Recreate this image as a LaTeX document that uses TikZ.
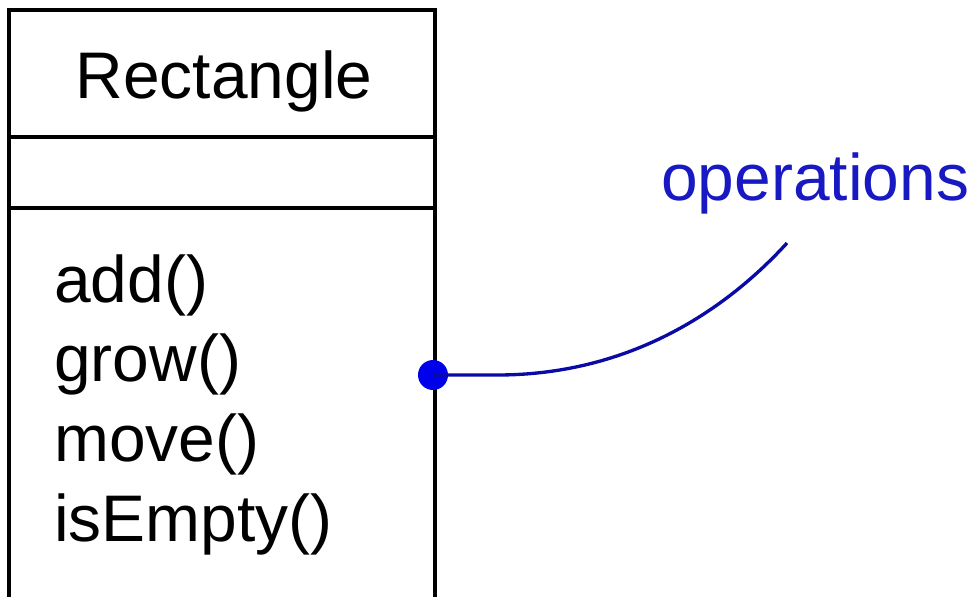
\documentclass[tikz,border=0pt]{standalone}
\usepackage{fontspec}
\setmainfont{Liberation Sans}
\usetikzlibrary{positioning}
\definecolor{opblue}{RGB}{25,25,195}
\definecolor{linkblue}{RGB}{10,10,165}
\definecolor{dotblue}{RGB}{0,0,235}

\begin{document}
\begin{tikzpicture}[
      x=0.02cm, y=-0.02cm,
      font=\fontsize{37.5}{45}\selectfont,
      part/.style={rectangle, draw=black, line width=1.9pt, inner sep=0pt,
                   outer sep=0pt, minimum width=8.52cm},
      member/.style={anchor=base west, inner sep=0pt},
      dotmark/.style={circle, fill=dotblue, inner sep=0pt, minimum size=0.6cm},
      link/.style={draw=linkblue, line width=1.9pt}
    ]
    \clip (0,0) rectangle (974,596);

    % Class box
    \node[part, anchor=north west, minimum height=2.54cm] (head) at (9,10) {};
    \node[part, below=0pt of head, minimum height=1.42cm] (attrs) {};
    \node[part, below=0pt of attrs, minimum height=8cm] (ops) {};

    % Name and operations
    \node[anchor=base, inner sep=0pt] (name) at (224,98) {Rectangle};
    \node[member] (add) at (54,302) {add()};
    \node[member] (grow) at (54,381) {grow()};
    \node[member] (move) at (54,461) {move()};
    \node[member] (empty) at (54,541) {isEmpty()};

    % Note
    \node[member, text=opblue] (note) at (661,200) {operations};
    \node[dotmark] (dot) at (433,375) {};
    \coordinate (bend) at (497,375);
    \coordinate (tip) at (787,243);
    \draw[link] (dot.center) -- (bend) .. controls (640,375) and (735,300) .. (tip);
  \end{tikzpicture}
\end{document}
